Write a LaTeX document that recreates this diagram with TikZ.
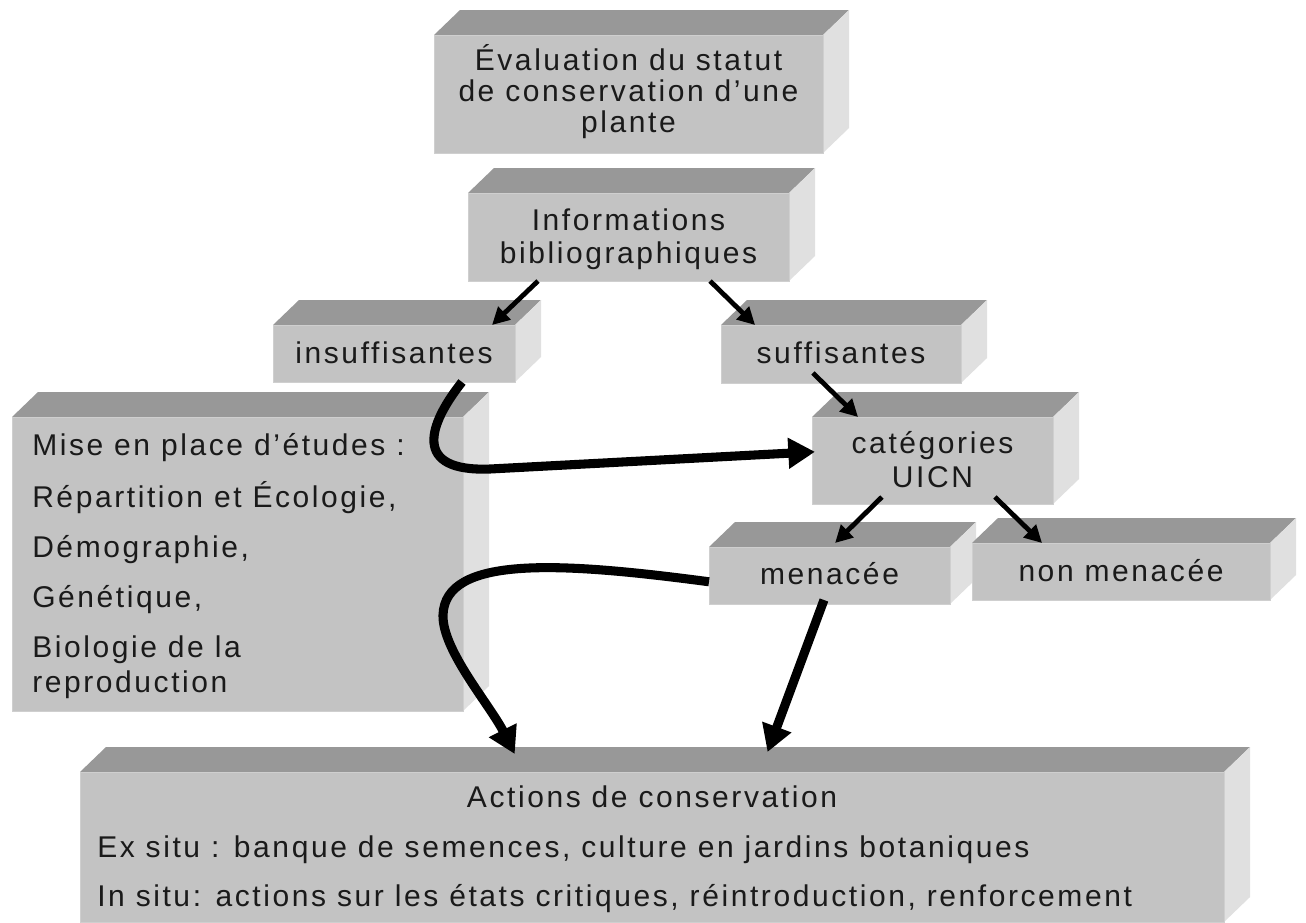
\documentclass[tikz,border=0pt]{standalone}
\usepackage{fontspec}
\setmainfont{Liberation Sans}[LetterSpace=8.6]
\usetikzlibrary{arrows.meta,calc}
\definecolor{topc}{HTML}{989898}
\definecolor{frontc}{HTML}{C3C3C3}
\definecolor{sidec}{HTML}{E0E0E0}
\definecolor{edgec}{HTML}{CFCFCF}
\definecolor{txtc}{HTML}{1A1A1A}
\newcommand\tdbox[5]{%
  \fill[topc] (#2,#3) -- (#2+26,#3-25) -- (#4+26,#3-25) -- (#4,#3) -- cycle;
  \fill[sidec] (#4,#3) -- (#4+26,#3-25) -- (#4+26,#5-25) -- (#4,#5) -- cycle;
  \node[frontface, anchor=north west, minimum width={(#4-#2)*0.75pt}, minimum height={(#5-#3)*0.75pt}] (#1) at (#2,#3) {};
}
\begin{document}
\begin{tikzpicture}[x=0.75pt,y=-0.75pt,
  frontface/.style={rectangle, fill=frontc, draw=edgec, line width=0.75pt, inner sep=0pt, outer sep=0pt},
  txt/.style={inner sep=0pt, font=\fontsize{22.5}{26}\selectfont, text=txtc},
  thinarrow/.style={line width=3.6pt, -{Triangle[length=13pt,width=13pt]}},
  thickarrow/.style={line width=6.8pt, -{Triangle[length=20pt,width=22pt]}},
]
\useasboundingbox (0,0) rectangle (1306,922);
\fill[white] (0,0) rectangle (1306,922);

\tdbox{eval}{434}{35}{823}{153}
\tdbox{info}{468}{193}{789}{281}
\tdbox{insuf}{273}{325}{515}{382}
\tdbox{suff}{721}{325}{961}{383}
\tdbox{mise}{12}{417}{463}{711}
\tdbox{cat}{812}{417}{1053}{504}
\tdbox{men}{709}{547}{950}{604}
\tdbox{non}{972}{543}{1270}{600}
\tdbox{act}{80}{772}{1224}{922}

% texts
\node[txt, anchor=base] (evalA) at (628.5,70) {Évaluation du statut};
\node[txt, anchor=base] (evalB) at (628.5,101) {de conservation d’une};
\node[txt, anchor=base] (evalC) at (628.5,132) {plante};
\node[txt, anchor=base] (infoA) at (628.5,230) {Informations};
\node[txt, anchor=base] (infoB) at (628.5,263) {bibliographiques};
\node[txt, anchor=base] (insufT) at (394,363) {insuffisantes};
\node[txt, anchor=base] (suffT) at (841,363) {suffisantes};
\node[txt, anchor=base] (catA) at (932.5,453) {catégories};
\node[txt, anchor=base] (catB) at (932.5,487) {UICN};
\node[txt, anchor=base] (menT) at (829.5,584) {menacée};
\node[txt, anchor=base] (nonT) at (1121,581) {non menacée};
\node[txt, anchor=base west] (miseA) at (32,455) {Mise en place d’études :};
\node[txt, anchor=base west] (miseB) at (32,507) {Répartition et Écologie,};
\node[txt, anchor=base west] (miseC) at (32,557) {Démographie,};
\node[txt, anchor=base west] (miseD) at (32,607) {Génétique,};
\node[txt, anchor=base west] (miseE) at (32,657) {Biologie de la};
\node[txt, anchor=base west] (miseF) at (32,692) {reproduction};
\node[txt, anchor=base] (actA) at (652,807) {Actions de conservation};
\node[txt, anchor=base west] (actB) at (97,857) {Ex situ : banque de semences, culture en jardins botaniques};
\node[txt, anchor=base west] (actC) at (97,906) {In situ: actions sur les états critiques, réintroduction, renforcement};

% thin arrows
\draw[thinarrow] ($(info.south west)!0.218!(info.south east)$) -- ($(insuf.north west)!0.905!(insuf.north east)$);
\draw[thinarrow] ($(info.south west)!0.754!(info.south east)$) -- ($(suff.north west)!0.142!(suff.north east)$);
\draw[thinarrow] ($(suff.south west)!0.383!(suff.south east)+(0,-10)$) -- ($(cat.north west)!0.191!(cat.north east)$);
\draw[thinarrow] ($(cat.south west)!0.290!(cat.south east)+(0,-7)$) -- ($(men.north west)!0.523!(men.north east)+(0,-4)$);
\draw[thinarrow] ($(cat.south west)!0.759!(cat.south east)+(0,-7)$) -- ($(non.north west)!0.235!(non.north east)$);

% thick arrows
\draw[thickarrow] ($(insuf.south west)!0.781!(insuf.south east)$) .. controls (428,425) and (412,472) .. (490,469) -- ($(cat.north west)!0.40!(cat.south west)+(3,0)$);
\draw[thickarrow] ($(men.north west)!0.61!(men.south west)$) .. controls (560,562) and (445,555) .. (443,615) .. controls (442,650) and (490,705) .. ($(act.north west)!0.380!(act.north east)+(0,-18)$);
\draw[thickarrow] ($(men.south west)!0.477!(men.south east)+(0,-4)$) -- ($(act.north west)!0.601!(act.north east)+(0,-20)$);
\end{tikzpicture}
\end{document}
